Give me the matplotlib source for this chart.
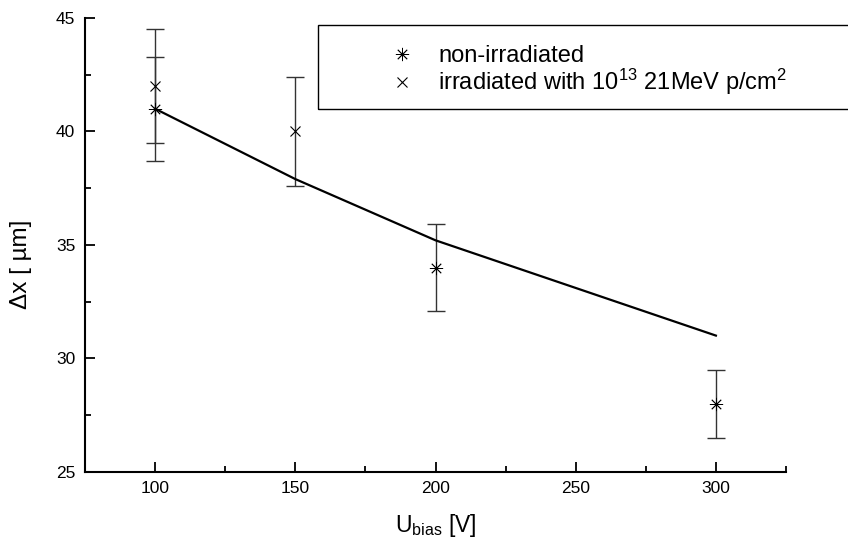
import numpy as np
import matplotlib
matplotlib.use("Agg")
import matplotlib.pyplot as plt
from matplotlib.ticker import MultipleLocator
from matplotlib.patches import Rectangle

plt.rcParams['font.family'] = ['Liberation Sans', 'DejaVu Sans']
plt.rcParams['mathtext.fontset'] = 'custom'
plt.rcParams['mathtext.rm'] = 'Liberation Sans'
plt.rcParams['mathtext.it'] = 'Liberation Sans:italic'

# non-irradiated (asterisk)
u_non = [100, 200, 300]
dx_non = [41.0, 34.0, 28.0]
err_non = [2.3, 1.9, 1.5]

# irradiated (cross)
u_irr = [100, 150]
dx_irr = [42.0, 40.0]
err_irr = [2.5, 2.4]

# curve
u_fit = [100, 150, 200, 300]
dx_fit = [41.0, 37.9, 35.2, 31.0]

fig = plt.figure(figsize=(8.48, 5.45), dpi=100)
ax = fig.add_axes([85/848, 1-471.7/545, 701/848, 453.7/545])

ax.plot(u_fit, dx_fit, color='black', lw=1.6, zorder=3)

star = (8, 2, 0)
ax.errorbar(u_non, dx_non, yerr=err_non, fmt='none', ecolor='#333333',
            elinewidth=1.0, capsize=6.5, capthick=1.0)
ax.errorbar(u_irr, dx_irr, yerr=err_irr, fmt='none', ecolor='#333333',
            elinewidth=1.0, capsize=6.5, capthick=1.0)
p1, = ax.plot(u_non, dx_non, ls='none', marker=star, ms=9.5, mew=0.6,
              color='black', zorder=4)
p2, = ax.plot(u_irr, dx_irr, ls='none', marker='x', ms=7.5, mew=0.8,
              color='black', zorder=4)

ax.set(xlim=(75, 325), ylim=(25, 45))

ax.xaxis.set_major_locator(MultipleLocator(base=50))
ax.xaxis.set_minor_locator(MultipleLocator(base=25))
ax.yaxis.set_major_locator(MultipleLocator(base=5))
ax.yaxis.set_minor_locator(MultipleLocator(base=2.5))

ax.spines['top'].set_visible(False)
ax.spines['right'].set_visible(False)
for s in ['left', 'bottom']:
    ax.spines[s].set_linewidth(1.5)

ax.tick_params(which='both', direction='in', width=1.3, labelsize=12.5)
ax.tick_params(which='major', length=7)
ax.tick_params(which='minor', length=4)
ax.tick_params(axis='x', pad=7)
ax.tick_params(axis='y', pad=7)

ax.set_xlabel(r'U$_{\rm bias}$ [V]', fontsize=16.5, labelpad=11)
ax.set_ylabel('\u0394x [ \u00b5m]', fontsize=17.5)
ax.yaxis.set_label_coords(-0.075, 0.458)

# legend box (runs off the right edge)
fig.patches.append(Rectangle((318/848, 1-109/545), 560/848, 84/545,
                             transform=fig.transFigure, fill=False,
                             edgecolor='black', lw=1.0, clip_on=False))
ax.legend([p1, p2], ['non-irradiated',
                     r'irradiated with 10$^{13}$ 21MeV p/cm$^{2}$'],
          loc='upper left', bbox_to_anchor=(390/848, 1-45/545),
          bbox_transform=fig.transFigure, frameon=False, fontsize=17,
          borderpad=0, borderaxespad=0, handlelength=1.0,
          handletextpad=1.05, labelspacing=0.0)

fig.savefig('out.png', dpi=100)
